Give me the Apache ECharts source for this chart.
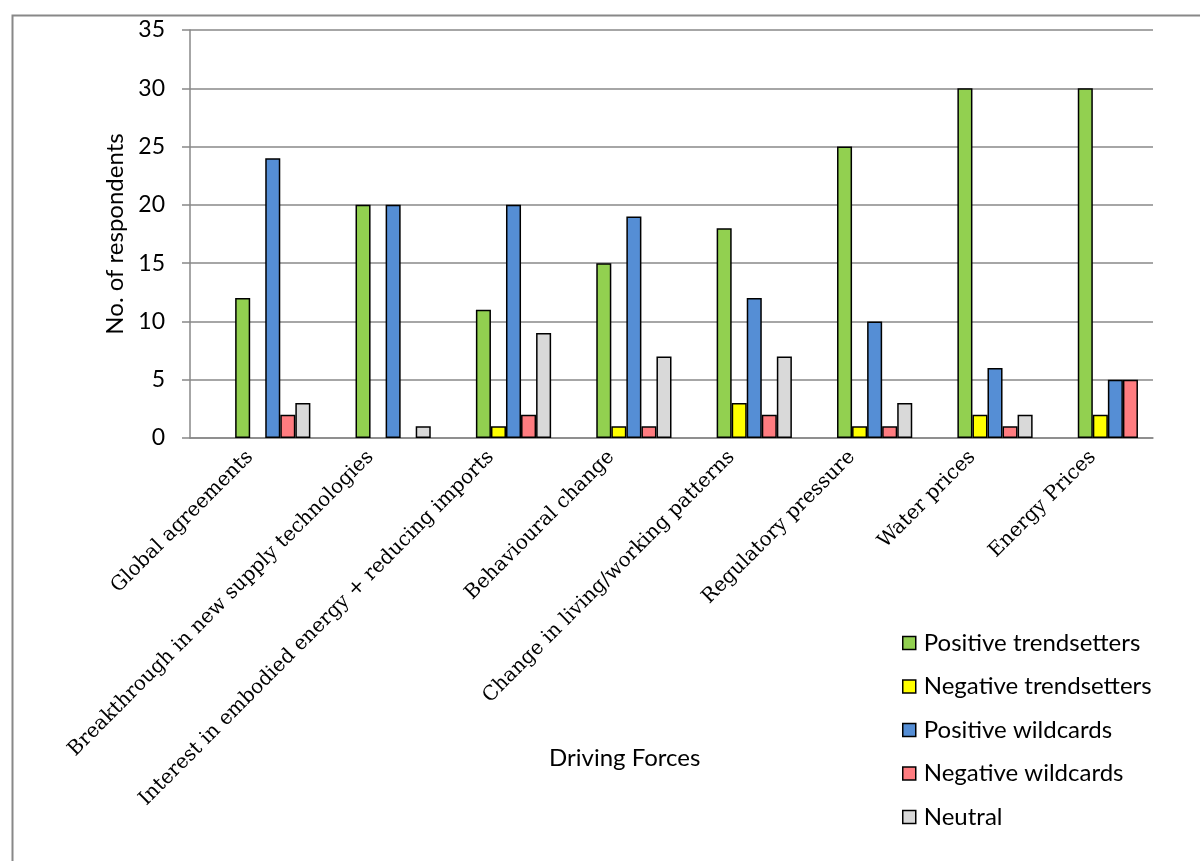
<!DOCTYPE html>
<html>
<head>
<meta charset="utf-8">
<script src="https://cdn.jsdelivr.net/npm/echarts@6/dist/echarts.min.js"></script>
<style>html,body{margin:0;padding:0;background:#fff}#chart{width:1200px;height:861px}</style>
</head>
<body>
<div id="chart"></div>
<script>
const categories = ['Global agreements', 'Breakthrough in new supply technologies', 'Interest in embodied energy + reducing imports', 'Behavioural change', 'Change in living/working patterns', 'Regulatory pressure', 'Water prices', 'Energy Prices']
const positiveTrendsetters = [12, 20, 11, 15, 18, 25, 30, 30]
const negativeTrendsetters = [0, 0, 1, 1, 3, 1, 2, 2]
const positiveWildcards = [24, 20, 20, 19, 12, 10, 6, 5]
const negativeWildcards = [2, 0, 2, 1, 2, 1, 1, 5]
const neutral = [3, 1, 9, 7, 7, 3, 2, 0]
const yTicks = { min: 0, max: 35, interval: 5 }

const chart = echarts.init(document.getElementById('chart'))
const sans = 'Lato'
const bar = (name, data, color) => ({
  name, type: 'bar', barGap: 0, barCategoryGap: 0,
  data: data.map(v => v === 0 ? '-' : v), // excel draws nothing for a zero
  itemStyle: { color, borderColor: '#000', borderWidth: 1.5 }
})
// three empty slots come first in each group, like the source workbook
const blank = () => ({ type: 'bar', data: categories.map(() => '-'), barGap: 0, barCategoryGap: 0, silent: true })

chart.setOption({
  animation: false,
  grid: { left: 190, right: 47, top: 30, bottom: 423 },
  legend: {
    data: ['Positive trendsetters', 'Negative trendsetters', 'Positive wildcards', 'Negative wildcards', 'Neutral'],
    orient: 'vertical', left: 902, top: 631, height: 300, padding: 0,
    icon: 'rect', itemWidth: 13, itemHeight: 13, itemGap: 19.5,
    itemStyle: { borderColor: '#000', borderWidth: 1.5 },
    textStyle: { fontSize: 24, lineHeight: 24, color: '#000', fontFamily: sans, padding: [0, 0, 0, 3] }
  },
  xAxis: {
    type: 'category', data: categories,
    axisLine: { lineStyle: { color: '#888', width: 1.5 } },
    axisTick: { length: 7, lineStyle: { color: '#888', width: 1.5 } },
    axisLabel: { rotate: 45, interval: 0, margin: 16, fontSize: 20, color: '#000', fontFamily: 'DejaVu Serif' }
  },
  yAxis: {
    type: 'value', min: yTicks.min, max: yTicks.max, interval: yTicks.interval,
    name: 'No. of respondents', nameLocation: 'middle', nameGap: 60,
    nameTextStyle: { fontSize: 24, color: '#000', fontFamily: sans },
    axisLine: { show: true, lineStyle: { color: '#888', width: 1.5 } },
    axisTick: { show: true, length: 8, lineStyle: { color: '#888', width: 1.5 } },
    splitLine: { lineStyle: { color: '#888', width: 1.5 } },
    axisLabel: { fontSize: 23, color: '#000', margin: 25, fontFamily: sans }
  },
  graphic: [
    { type: 'rect', left: 10, top: 13, shape: { width: 1200, height: 900 }, style: { fill: 'none', stroke: '#888', lineWidth: 2 }, silent: true },
    { type: 'text', left: 549, top: 746, style: { text: 'Driving Forces', fontSize: 24, fill: '#000', fontFamily: sans } }
  ],
  series: [
    blank(), blank(), blank(),
    bar('Positive trendsetters', positiveTrendsetters, '#92D050'),
    bar('Negative trendsetters', negativeTrendsetters, '#FFFF00'),
    bar('Positive wildcards', positiveWildcards, '#558ED5'),
    bar('Negative wildcards', negativeWildcards, '#FF7C80'),
    bar('Neutral', neutral, '#D9D9D9')
  ]
})
</script>
</body>
</html>
